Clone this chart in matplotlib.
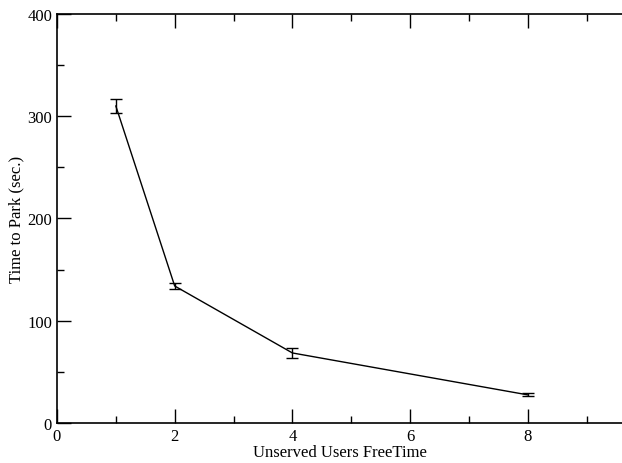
import matplotlib
matplotlib.use("Agg")
import matplotlib.pyplot as plt

x = [1, 2, 4, 8]
y = [310, 134, 68.5, 27.5]
yerr = [7, 3, 5, 1.5]
xticks = [0, 2, 4, 6, 8]
yticks = [0, 100, 200, 300, 400]

plt.rcParams['font.family'] = ['Liberation Serif', 'DejaVu Serif']
fig = plt.figure(figsize=(6.22, 4.64), dpi=100)
ax = fig.add_axes([0.0916, 0.0862, 0.9084, 0.8815])
ax.errorbar(x, y, yerr=yerr, color='black', lw=1.0, capsize=4, elinewidth=1.0, capthick=1.0)
ax.set_xlim(0, 9.6)
ax.set_ylim(0, 400)
ax.set_xticks(xticks)
ax.set_yticks(yticks)
ax.set_xticks([1, 3, 5, 7, 9], minor=True)
ax.set_yticks([50, 150, 250, 350], minor=True)
ax.spines['right'].set_visible(False)
for s in ['left', 'bottom', 'top']:
    ax.spines[s].set_linewidth(1.2)
ax.tick_params(which='both', direction='in', top=True, right=False, labelsize=12, width=1.0)
ax.tick_params(which='major', length=10)
ax.tick_params(which='minor', length=5)
ax.set_xlabel('Unserved Users FreeTime', fontsize=12, labelpad=0)
ax.set_ylabel('Time to Park (sec.)', fontsize=12, labelpad=2)
fig.savefig('out.png', dpi=100)
